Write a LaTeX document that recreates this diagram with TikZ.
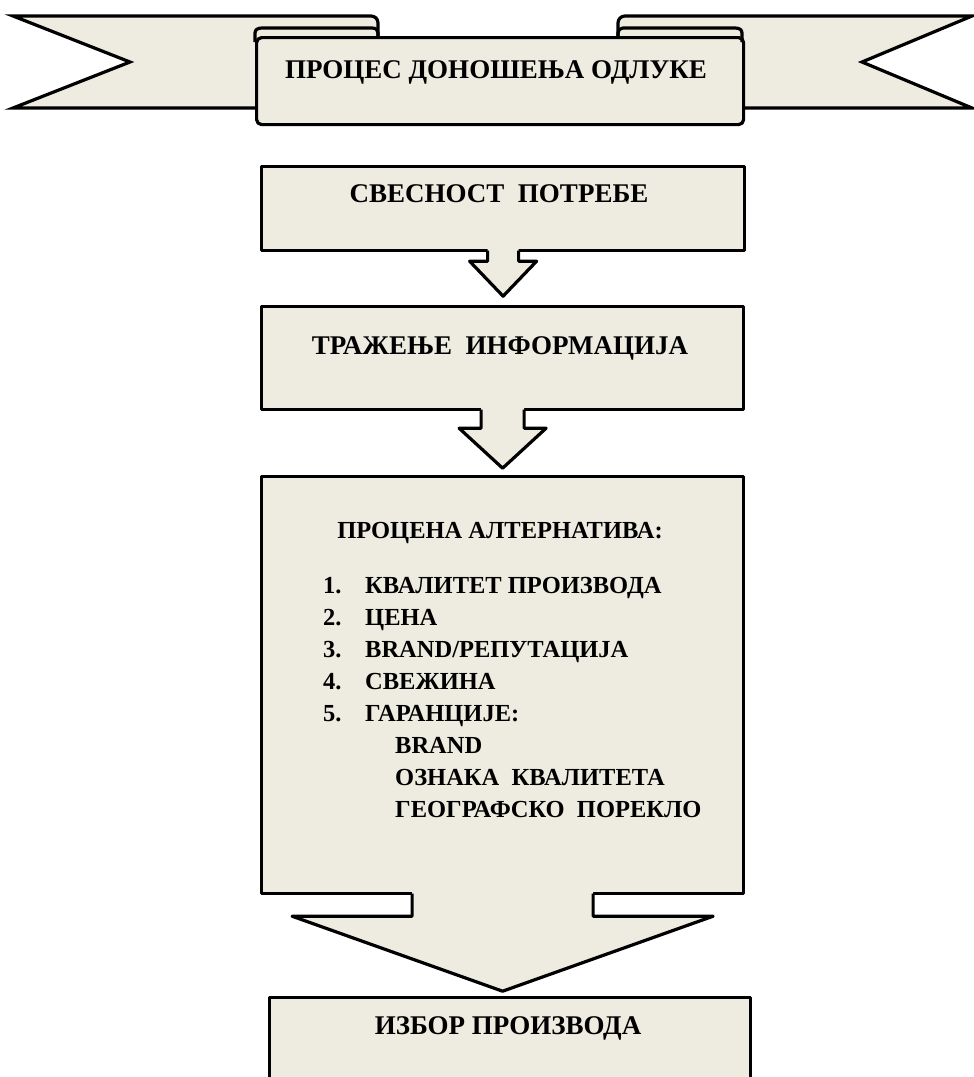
\documentclass[tikz,border=0pt]{standalone}
\usepackage{fontspec}
\setmainfont{Liberation Serif}[BoldFont={Liberation Serif Bold}]
\definecolor{beige}{HTML}{EEECE1}
\newcommand\blockarrow[5]{%
  \fill[beige] ([shift={(-#2,-3)}]#1) -- ([shift={(-#2,#3)}]#1) -- ([shift={(-#4,#3)}]#1)
    -- ([shift={(0,{#3+#5})}]#1) -- ([shift={(#4,#3)}]#1) -- ([shift={(#2,#3)}]#1)
    -- ([shift={(#2,-3)}]#1) -- cycle;
  \draw[ln] ([shift={(-#2,-1.6)}]#1) -- ([shift={(-#2,#3)}]#1) -- ([shift={(-#4,#3)}]#1)
    -- ([shift={(0,{#3+#5})}]#1) -- ([shift={(#4,#3)}]#1) -- ([shift={(#2,#3)}]#1)
    -- ([shift={(#2,-1.6)}]#1);
}
\begin{document}
\begin{tikzpicture}[x=1pt,y=-1pt,
  ln/.style={line width=3.2pt, line join=round},
  boxstyle/.style={draw, ln, fill=beige, rectangle, inner sep=0pt, anchor=north west},
  hd/.style={font=\fontsize{27}{30}\selectfont\bfseries, inner sep=0pt, anchor=base},
  lh/.style={font=\fontsize{24.5}{28}\selectfont\bfseries, inner sep=0pt, anchor=base},
  li/.style={font=\fontsize{24.5}{28}\selectfont\bfseries, inner sep=0pt, anchor=base west},
]
\useasboundingbox (0,0) rectangle (974,1077);
\begin{scope}
\clip (0,0) rectangle (974,1077);
% ribbon tails
\draw[ln, line join=miter, fill=beige] (13,16) -- (371,16) .. controls (375,16) and (378,19) .. (378,23)
  -- (378,108) -- (13,108) -- (130,62) -- cycle;
\draw[ln, line join=miter, fill=beige] (972,16) -- (625,16) .. controls (621,16) and (618,19) .. (618,23)
  -- (618,108) -- (972,108) -- (862,62) -- cycle;
% ribbon panel
\node[boxstyle, rounded corners=5pt, minimum width=487pt, minimum height=87pt] (title) at (255,36) {};
\draw[ln] (255,42) -- (255,33) .. controls (255,29.5) and (258,28) .. (262,28) -- (372,28)
  .. controls (376,28) and (378,30) .. (378,33) -- (378,36);
\draw[ln] (742,42) -- (742,33) .. controls (742,29.5) and (739,28) .. (735,28) -- (623,28)
  .. controls (620,28) and (618,30) .. (618,33) -- (618,36);
\node[hd] (tt) at (496,78) {ПРОЦЕС ДОНОШЕЊА ОДЛУКЕ};
% boxes
\node[boxstyle, minimum width=483pt, minimum height=84pt] (b1) at (260,165) {};
\node[boxstyle, minimum width=482pt, minimum height=103pt] (b2) at (260,305) {};
\node[boxstyle, minimum width=482pt, minimum height=417pt] (b3) at (260,475) {};
\node[boxstyle, minimum width=481pt, minimum height=120pt] (b4) at (268,996) {};
% arrows
\blockarrow{b1.south}{15.5}{9}{33.5}{35}
\blockarrow{b2.south}{21.5}{17}{43.5}{40}
\blockarrow{b3.south}{90.5}{21}{210.5}{75}
% texts
\node[hd] (t1) at (499,202) {СВЕСНОСТ\ \ ПОТРЕБЕ};
\node[hd] (t2) at (500,354) {ТРАЖЕЊЕ\ \ ИНФОРМАЦИЈА};
\node[lh] (t3) at (500,538) {ПРОЦЕНА АЛТЕРНАТИВА:};
\node[hd] (t4) at (508,1034) {ИЗБОР ПРОИЗВОДА};
\node[li] (n1) at (323,593) {1.};
\node[li] (l1) at (365,593) {КВАЛИТЕТ ПРОИЗВОДА};
\node[li] (n2) at (323,625) {2.};
\node[li] (l2) at (365,625) {ЦЕНА};
\node[li] (n3) at (323,657) {3.};
\node[li] (l3) at (365,657) {BRAND/РЕПУТАЦИЈА};
\node[li] (n4) at (323,689) {4.};
\node[li] (l4) at (365,689) {СВЕЖИНА};
\node[li] (n5) at (323,721) {5.};
\node[li] (l5) at (365,721) {ГАРАНЦИЈЕ:};
\node[li] (s1) at (395,753) {BRAND};
\node[li] (s2) at (395,785) {ОЗНАКА\ \ КВАЛИТЕТА};
\node[li] (s3) at (395,817) {ГЕОГРАФСКО\ \ ПОРЕКЛО};
\end{scope}
\end{tikzpicture}
\end{document}
